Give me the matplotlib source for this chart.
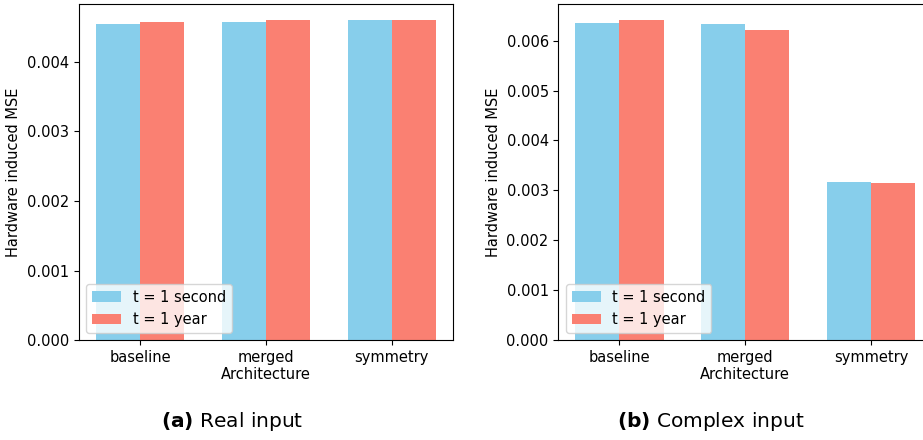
import numpy as np
import matplotlib.pyplot as plt

# architectures on the x axis
archs = ["baseline", "merged\nArchitecture", "symmetry"]

# hardware induced MSE, real-valued input
real_1s = [0.004545, 0.004569, 0.004593]
real_1y = [0.004569, 0.004593, 0.004593]

# hardware induced MSE, complex-valued input
cplx_1s = [0.006359, 0.006326, 0.003160]
cplx_1y = [0.006406, 0.006218, 0.003146]

panels = [
    ("(a)", "Real input", real_1s, real_1y),
    ("(b)", "Complex input", cplx_1s, cplx_1y),
]

plt.rcParams["font.family"] = "DejaVu Sans"
plt.rcParams["font.size"] = 10.5

fig = plt.figure(figsize=(9.23, 4.4), dpi=100)
ax_left = fig.add_axes([0.0856, 0.227, 0.405, 0.763])
ax_right = fig.add_axes([0.605, 0.227, 0.405, 0.763])

x = np.arange(len(archs))
w = 0.35

for ax, (tag, name, v_sec, v_year), cap_x in zip(
        [ax_left, ax_right], panels, [0.251, 0.770]):
    ax.bar(x, v_sec, w, color="skyblue", label="t = 1 second")
    ax.bar(x + w, v_year, w, color="salmon", label="t = 1 year")
    ax.set_xticks(x + w / 2)
    ax.set_xticklabels(archs)
    ax.set_ylabel("Hardware induced MSE")
    ax.legend(loc="lower left", fontsize=10.5)
    fig.text(cap_x, 0.041, r"$\bf{" + tag + "}$ " + name,
             ha="center", va="center", fontsize=14.5)

fig.savefig("out.png", dpi=100)
